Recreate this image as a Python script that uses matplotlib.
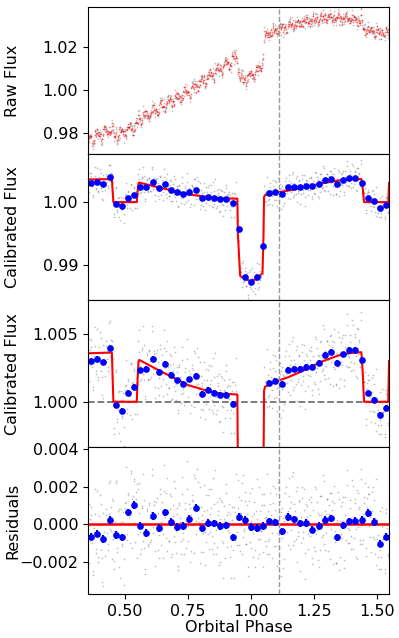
import numpy as np
import matplotlib
matplotlib.use("Agg")
import matplotlib.pyplot as plt

plt.rcParams['font.size'] = 11.5

# astrophysical model (knots)
model_phase = [0.352, 0.40, 0.447, 0.450, 0.453, 0.546, 0.549, 0.553, 0.556, 0.618, 0.684, 0.750,
               0.816, 0.882, 0.935, 0.946, 0.948, 0.957, 0.975, 0.997, 1.020, 1.046, 1.050, 1.052,
               1.056, 1.100, 1.147, 1.214, 1.280, 1.346, 1.400, 1.439, 1.445, 1.447, 1.450, 1.546, 1.549]
model_flux = [1.00357, 1.00360, 1.00362, 1.0018, 1.0000, 1.0000, 1.0015, 1.0030, 1.00308, 1.00247,
              1.00185, 1.00123, 1.00086, 1.00059, 1.00055, 1.00053, 0.9950, 0.98836, 0.9879, 0.98757,
              0.9878, 0.98879, 0.9950, 1.0008, 1.00111, 1.00150, 1.0018, 1.00234, 1.00295, 1.0034,
              1.0036, 1.00365, 1.0020, 1.0010, 1.0000, 1.0000, 1.0030]

# binned data
bin_phase = [0.364, 0.389, 0.413, 0.438, 0.462, 0.487, 0.511, 0.535, 0.560, 0.584, 0.609, 0.633,
             0.658, 0.682, 0.707, 0.731, 0.755, 0.780, 0.804, 0.829, 0.853, 0.878, 0.902, 0.927,
             0.951, 0.975, 1.000, 1.024, 1.049, 1.073, 1.097, 1.122, 1.146, 1.171, 1.195, 1.220,
             1.244, 1.269, 1.293, 1.317, 1.342, 1.366, 1.391, 1.415, 1.440, 1.464, 1.488, 1.513, 1.537]
bin_flux = [1.00301, 1.00318, 1.00291, 1.00394, 0.99973, 0.99934, 1.00064, 1.00109, 1.00232, 1.00242,
            1.00315, 1.00222, 1.00278, 1.00197, 1.00158, 1.00133, 1.00165, 1.00190, 1.00059, 1.00086,
            1.00064, 1.00049, 1.00049, 0.99983, 0.99573, 0.98825, 0.98741, 0.98815, 0.99300, 1.00137,
            1.00153, 1.00130, 1.00235, 1.00242, 1.00243, 1.00256, 1.00256, 1.00287, 1.00344, 1.00369,
            1.00287, 1.00350, 1.00380, 1.00385, 1.00309, 1.00061, 1.00016, 0.99901, 0.99954]
bin_resid = [-0.00066, -0.00050, -0.00077, 0.00023, -0.00057, -0.00070, 0.00064, 0.00103, -0.00007, -0.00045,
             0.00044, -0.00020, 0.00064, 0.00012, -0.00014, -0.00010, 0.00028, 0.00089, -0.00021, 0.00007,
             0.00005, -0.00008, -0.00005, -0.00070, 0.00040, 0.00023, -0.00014, -0.00020, -0.00010, 0.00016,
             0.00010, -0.00037, 0.00039, 0.00027, 0.00005, 0.00007, -0.00028, -0.00008, 0.00023, 0.00032,
             -0.00070, -0.00005, 0.00016, 0.00020, 0.00022, 0.00060, 0.00013, -0.00103, -0.00066]
bin_err = 0.0002

# unbinned scatter about the binned residuals (units of 1e-4), two interleaved sets
dev_a = [5, -12, 8, 14, -3, -18, 2, 9, -7, 20, -11, 4, -1, 16, -9, -22, 7, 1, 11, -6,
         -14, 3, 18, -5, 10, -2, -16, 6, 25, -8, 0, 13, -19, 7, -4, 12, -10, 2, 21, -13,
         9, -6, -1, 15, -20, 4, 11, -9, 3, -15, 17, 6, -3, -11, 8, 24, -7, -17, 1, 10,
         -5, 14, -12, 2, 19, -8, 5, -23, 12, -1, 7, -14, 16, 3, -6, -10, 22, -2, 9, -18,
         4, -9, 13, -16, 1, 8, -4, 18, -12, 6, -20, 10, 2, -7, 15, -3, -13, 11, -1, 27,
         -10, 5, -15, 9, 3, -21, 14, -6, 0, 12, -8, 19, -11, 4, -2, 8, -17, 13, 6, -5,
         16, -4, 7, -12, 21, -9, 1, -14, 10, 5, -18, 3, 12, -7, -24, 9, 2, 15, -10, 6,
         -3, 11, -19, 8, -6, 14, -1, 20, -13, 4, 9, -16, 2, 17, -8, -4, 13, -11, 7, -22,
         12, -7, 3, 18, -14, 6, -10, 1, 23, -5, -12, 8, -2, 15, -19, 10, 4, -9, -15, 5,
         -8, 13, 0, -17, 9, 2, 16, -11, -5, 19, -3, 7, -21, 11, 6, -13, 1, 14, -7, 3,
         10, -15, 8, -2, 22, -10, 4, 13, -18, -6, 11, 1, -9, 17, -4, 6, -26, 9, 3, -12,
         -1, 7, 15, -13, 2, -8, 20, -4, 11, -16, 5, -11, 14, 0, -7, 18, -14, 3, 10, -3,
         6, -19, 12, 4, -9, 16, -2, -12, 8, 21, -15, 2, 9, -6, 13, -20, 5, -1, 17, -10,
         -4, 10, -7, 19, -13, 1, 8, -17, 14, -3, 6, -9, 24, -11, 3, 11, -5, -16, 7, 12,
         9, -2, -14, 5, 16, -8, 2, -20, 11, 4, -12, 15, -6, 8, -1, -15, 13, 6, -9, 3]
dev_b = [-7, 15, -2, 10, -16, 4, 21, -9, 1, -13, 8, 18, -5, -20, 12, 3, -8, 14, -1, -11,
         17, -4, 6, -18, 9, -12, 2, 24, -6, 11, -15, 0, 13, -3, 7, -22, 16, 5, -10, 8,
         -2, -14, 19, 3, -9, 12, -17, 6, 10, -4, 20, -13, 1, 9, -7, 15, -19, 4, 11, -6,
         13, -1, -11, 22, -5, 7, -16, 2, 14, -10, -3, 18, -8, 5, -21, 10, 0, -12, 16, -4,
         -9, 6, 12, -15, 3, 19, -7, -2, 9, -18, 11, 4, -13, 23, -6, 1, 8, -10, 14, -3,
         7, -20, 2, 11, -8, 15, -1, -12, 18, -5, 3, -16, 10, 6, -11, 20, -4, -9, 1, 13,
         -12, 4, 16, -6, -14, 9, 25, -3, -10, 7, 13, -17, 0, 11, -8, 3, -15, 19, 5, -2,
         10, -9, -4, 14, 6, -19, 12, -1, -7, 17, -13, 2, 8, -16, 21, -5, 9, -11, 3, -23,
         1, 16, -10, 5, -3, 12, -18, 8, 4, -14, 19, -6, -2, 10, -12, 15, -7, 2, 22, -9,
         -15, 8, 3, -5, 17, -11, 6, 13, -20, 1, -8, 14, 9, -3, -17, 5, 11, -1, -13, 18,
         4, -6, 20, -12, 7, 0, -9, 15, -4, 10, -22, 3, 12, -7, 16, -14, 2, 8, -5, 11,
         -3, 13, -16, 9, 1, -10, 17, -2, 6, -19, 14, 5, -8, 21, -11, 4, -6, 10, -15, 2,
         12, -5, 8, -21, 15, 3, -12, 7, -1, 18, -9, -4, 11, 2, -16, 13, -7, 24, -3, -10,
         6, -13, 1, 16, -8, 10, -4, -18, 13, 5, -11, 19, -2, -9, 8, 14, -20, 3, 9, -6,
         -11, 3, 14, -7, 10, -15, 20, 2, -6, 9, -3, -12, 17, -1, 6, -17, 11, 4, -8, 15]

# detector systematics (ramp + pointing sawtooth)
sys_phase = [0.352, 0.485, 0.552, 0.618, 0.684, 0.750, 0.816, 0.882, 0.935, 1.000, 1.052,
             1.108, 1.214, 1.293, 1.386, 1.450, 1.549]
sys_level = [0.9734, 0.9800, 0.9831, 0.9876, 0.9928, 0.9973, 1.0037, 1.0094, 1.0140, 1.0190, 1.0235,
             1.0262, 1.0291, 1.0300, 1.0292, 1.0275, 1.0262]
saw = [1.0, 0.85, 0.7, 0.55, 0.4, 0.2, 0.0, -0.2, -0.4, -0.6, -0.8, -1.0, -0.5, 0.0, 0.5, 0.8]
saw_amp_phase = [0.352, 0.95, 1.05, 1.549]
saw_amp = [0.0024, 0.0022, 0.0013, 0.0010]

t_eclipse = 1.112

n = len(dev_a) + len(dev_b)
dev = np.empty(n)
dev[0::2] = dev_a
dev[1::2] = dev_b
phase = np.linspace(0.352, 1.549, n)
bin_phase = np.array(bin_phase)
idx = np.abs(phase[:, None] - bin_phase[None, :]).argmin(axis=1)
resid = np.array(bin_resid)[idx] + dev * 1.15e-4
model_pts = np.interp(phase, model_phase, model_flux)
calib = model_pts + resid
jitter = dev[::-1] * 0.9e-4
sysm = (np.interp(phase, sys_phase, sys_level)
        + np.resize(saw, n) * np.interp(phase, saw_amp_phase, saw_amp) + jitter)
raw = sysm * calib
raw_model = sysm * model_pts

fig, axes = plt.subplots(4, 1, sharex=True, figsize=(3.99, 6.38), dpi=100)
fig.subplots_adjust(left=0.2205, right=0.975, top=0.989, bottom=0.069, hspace=0)
ax1, ax2, ax3, ax4 = axes

gray = dict(ls='none', marker='.', color='k', ms=2.5, alpha=0.25, mec='none')
blue = dict(fmt='o', color='b', ms=3.8, elinewidth=1.5, capsize=0)

ax1.plot(phase, raw, **gray)
ax1.plot(phase, raw_model, ls='none', marker='.', color='r', ms=2.5, alpha=0.55, mec='none')
ax1.set_ylim(0.9704, 1.0383)
ax1.set_yticks([0.98, 1.00, 1.02])
ax1.set_ylabel('Raw Flux')

ax2.plot(phase, calib, **gray)
ax2.plot(model_phase, model_flux, color='r', lw=1.5)
ax2.errorbar(bin_phase, bin_flux, yerr=bin_err, **blue)
ax2.set_ylim(0.98447, 1.00763)
ax2.set_yticks([0.99, 1.00])
ax2.set_ylabel('Calibrated Flux')

ax3.plot(phase, calib, **gray)
ax3.axhline(1.0, color='0.45', ls='--', lw=1.3)
ax3.plot(model_phase, model_flux, color='r', lw=1.5)
ax3.errorbar(bin_phase, bin_flux, yerr=bin_err, **blue)
ax3.set_ylim(0.99665, 1.00746)
ax3.set_yticks([1.000, 1.005])
ax3.set_yticklabels(['1.000', '1.005'])
ax3.set_ylabel('Calibrated Flux')

ax4.plot(phase, resid, **gray)
ax4.axhline(0.0, color='r', lw=1.8)
ax4.errorbar(bin_phase, bin_resid, yerr=bin_err, **blue)
ax4.set_ylim(-0.00372, 0.00412)
ax4.set_yticks([-0.002, 0.000, 0.002, 0.004])
ax4.set_ylabel('Residuals')
ax4.set_xlabel('Orbital Phase', labelpad=1)
ax4.set_xlim(0.352, 1.549)
ax4.set_xticks([0.50, 0.75, 1.00, 1.25, 1.50])

for ax in axes:
    ax.axvline(t_eclipse, color='0.6', ls='--', lw=1)
    ax.yaxis.set_label_coords(-0.225, 0.5)

fig.savefig('out.png', dpi=100)
